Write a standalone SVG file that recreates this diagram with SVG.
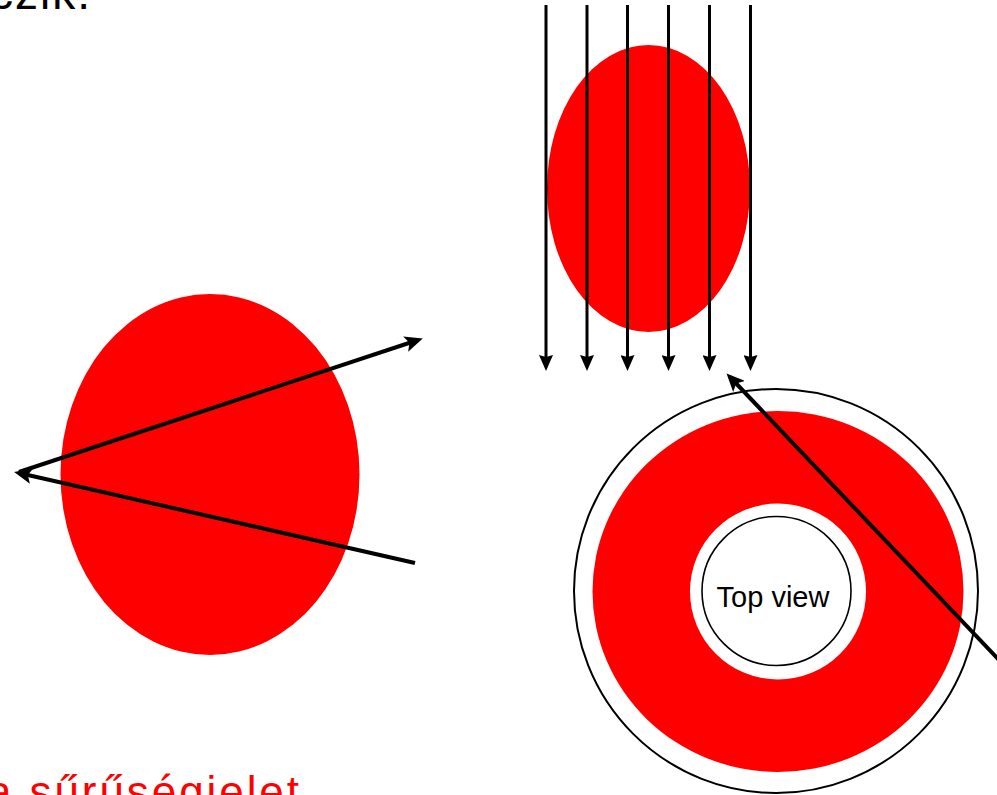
<svg xmlns="http://www.w3.org/2000/svg" width="997" height="795" viewBox="0 0 997 795">
  <style>
    .red { fill: #ff0000; }
    .ray { stroke: #000; stroke-width: 4; fill: none; }
    .vray { stroke: #000; stroke-width: 3; fill: none; marker-end: url(#ahv); }
    .ring { fill: none; stroke: #000; stroke-width: 2; }
    .label { font-family: "Liberation Sans", Arial, sans-serif; }
  </style>
  <defs>
    <marker id="ah" markerWidth="18" markerHeight="16" refX="13" refY="8" orient="auto" markerUnits="userSpaceOnUse">
      <path d="M0,0 L18,8 L0,16 L4,8 Z" fill="#000"/>
    </marker>
    <marker id="ahv" markerWidth="16" markerHeight="14" refX="12" refY="7" orient="auto" markerUnits="userSpaceOnUse">
      <path d="M0,0 L16,7 L0,14 L2,7 Z" fill="#000"/>
    </marker>
  </defs>
  <rect width="997" height="795" fill="#fff"/>

  <text class="label" x="-10" y="9" font-size="46" letter-spacing="2" fill="#000">czik.</text>
  <text class="label" x="-13" y="807" font-size="44" fill="#ff0000" textLength="312" lengthAdjust="spacing">a sűrűségjelet</text>

  <g id="side-cell">
    <ellipse class="red" cx="210" cy="474.5" rx="149.5" ry="180.5"/>
  </g>

  <g id="front-cell">
    <ellipse class="red" cx="648.5" cy="188.5" rx="101.5" ry="143.5"/>
  </g>

  <g id="top-view">
    <circle class="ring" cx="776" cy="591" r="202"/>
    <ellipse class="red" cx="778" cy="591.5" rx="185.5" ry="180.5"/>
    <circle cx="778" cy="591.5" r="88" fill="#fff"/>
    <circle cx="776.5" cy="591" r="74.5" fill="none" stroke="#000" stroke-width="1.6"/>
    <text class="label" x="773" y="607" font-size="29" text-anchor="middle" fill="#000">Top view</text>
  </g>

  <g id="connectors">
    <line class="ray" x1="415" y1="563" x2="19" y2="473" marker-end="url(#ah)"/>
    <line class="ray" x1="19" y1="472" x2="418" y2="340" marker-end="url(#ah)"/>
    <line class="vray" x1="546" y1="5" x2="546" y2="367"/>
    <line class="vray" x1="587" y1="5" x2="587" y2="367"/>
    <line class="vray" x1="627.5" y1="5" x2="627.5" y2="367"/>
    <line class="vray" x1="668.5" y1="5" x2="668.5" y2="367"/>
    <line class="vray" x1="709.5" y1="5" x2="709.5" y2="367"/>
    <line class="vray" x1="750.5" y1="5" x2="750.5" y2="367"/>
    <line class="ray" x1="1000" y1="661" x2="730" y2="377" marker-end="url(#ah)"/>
  </g>
</svg>
